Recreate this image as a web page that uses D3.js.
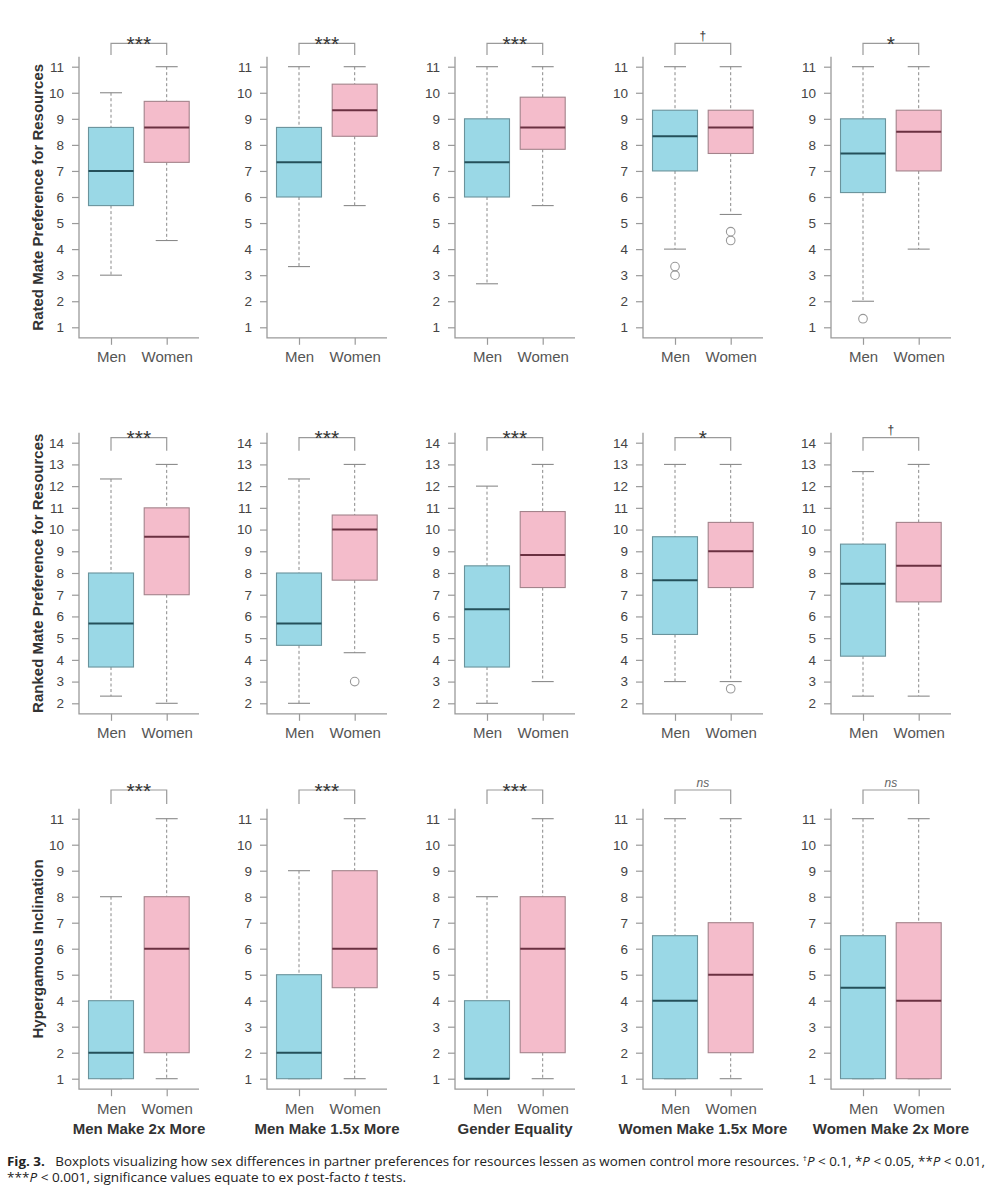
<!DOCTYPE html>
<html>
<head>
<meta charset="utf-8">
<script src="https://cdn.jsdelivr.net/npm/d3@7"></script>
<style>
  body { margin: 0; background: #fff; }
  svg { display: block; }
</style>
</head>
<body>
<svg id="chart" width="993" height="1200"></svg>
<script>
// groups and conditions
const groups = ["Men", "Women"];
const conditions = ["Men Make 2x More", "Men Make 1.5x More", "Gender Equality", "Women Make 1.5x More", "Women Make 2x More"];
const measures = ["Rated Mate Preference for Resources", "Ranked Mate Preference for Resources", "Hypergamous Inclination"];

// tick labels per row
const ratedTicks = [1, 2, 3, 4, 5, 6, 7, 8, 9, 10, 11];
const rankedTicks = [2, 3, 4, 5, 6, 7, 8, 9, 10, 11, 12, 13, 14];
const hyperTicks = [1, 2, 3, 4, 5, 6, 7, 8, 9, 10, 11];

// box stats: [lower whisker, Q1, median, Q3, upper whisker], one per condition
const ratedMen = [
  [3, 5.67, 7, 8.67, 10],
  [3.33, 6, 7.33, 8.67, 11],
  [2.67, 6, 7.33, 9, 11],
  [4, 7, 8.33, 9.33, 11],
  [2, 6.17, 7.67, 9, 11]
];
const ratedWomen = [
  [4.33, 7.33, 8.67, 9.67, 11],
  [5.67, 8.33, 9.33, 10.33, 11],
  [5.67, 7.83, 8.67, 9.83, 11],
  [5.33, 7.67, 8.67, 9.33, 11],
  [4, 7, 8.5, 9.33, 11]
];
const ratedMenOut = [[], [], [], [3.33, 3], [1.33]];
const ratedWomenOut = [[], [], [], [4.67, 4.33], []];

const rankedMen = [
  [2.33, 3.67, 5.67, 8, 12.33],
  [2, 4.67, 5.67, 8, 12.33],
  [2, 3.67, 6.33, 8.33, 12],
  [3, 5.17, 7.67, 9.67, 13],
  [2.33, 4.17, 7.5, 9.33, 12.67]
];
const rankedWomen = [
  [2, 7, 9.67, 11, 13],
  [4.33, 7.67, 10, 10.67, 13],
  [3, 7.33, 8.83, 10.83, 13],
  [3, 7.33, 9, 10.33, 13],
  [2.33, 6.67, 8.33, 10.33, 13]
];
const rankedMenOut = [[], [], [], [], []];
const rankedWomenOut = [[], [3], [], [2.67], []];

const hyperMen = [
  [1, 1, 2, 4, 8],
  [1, 1, 2, 5, 9],
  [1, 1, 1, 4, 8],
  [1, 1, 4, 6.5, 11],
  [1, 1, 4.5, 6.5, 11]
];
const hyperWomen = [
  [1, 2, 6, 8, 11],
  [1, 4.5, 6, 9, 11],
  [1, 2, 6, 8, 11],
  [1, 2, 5, 7, 11],
  [1, 1, 4, 7, 11]
];
const hyperMenOut = [[], [], [], [], []];
const hyperWomenOut = [[], [], [], [], []];

// significance labels
const ratedSig = ["***", "***", "***", "\u2020", "*"];
const rankedSig = ["***", "***", "***", "*", "\u2020"];
const hyperSig = ["***", "***", "***", "ns", "ns"];

// layout per row (pixel positions of first / last tick, bracket line)
const rows = [
  { title: measures[0], ticks: ratedTicks, men: ratedMen, women: ratedWomen, menOut: ratedMenOut, womenOut: ratedWomenOut, sig: ratedSig, top: 66.7, bottom: 327.3, bracket: 43.3, leg: 11.7 },
  { title: measures[1], ticks: rankedTicks, men: rankedMen, women: rankedWomen, menOut: rankedMenOut, womenOut: rankedWomenOut, sig: rankedSig, top: 442.7, bottom: 703.3, bracket: 437.7, leg: 13 },
  { title: measures[2], ticks: hyperTicks, men: hyperMen, women: hyperWomen, menOut: hyperMenOut, womenOut: hyperWomenOut, sig: hyperSig, top: 818.7, bottom: 1078.7, bracket: 790, leg: 14 }
];

const fills = { Men: "#9ad8e6", Women: "#f4bccb" };
const strokes = { Men: "#6a939c", Women: "#a3838b" };
const medians = { Men: "#24505a", Women: "#6a3041" };
const axisColor = "#9a9a9a";
const font = "'Liberation Sans', Arial, sans-serif";

const svg = d3.select("#chart");

rows.forEach((row, r) => {
  const y = d3.scaleLinear()
    .domain([row.ticks[0], row.ticks[row.ticks.length - 1]])
    .range([row.bottom, row.top]);
  const axTop = row.top - 10;
  const axBottom = row.bottom + 10.5;

  // row title
  svg.append("text")
    .attr("transform", `translate(43,${(axTop + axBottom) / 2}) rotate(-90)`)
    .attr("text-anchor", "middle")
    .style("font-family", font)
    .style("font-size", "15px")
    .style("font-weight", "bold")
    .attr("fill", "#333")
    .text(row.title);

  conditions.forEach((cond, i) => {
    const ax = 79 + 188 * i;
    const x = d3.scalePoint().domain(groups).range([ax + 32, ax + 87.7]);
    const g = svg.append("g");

    // y axis
    g.append("g")
      .attr("transform", `translate(${ax},0)`)
      .call(d3.axisLeft(y).tickValues(row.ticks).tickSize(7).tickPadding(8).tickSizeOuter(0))
      .call(a => a.select(".domain").remove())
      .call(a => a.selectAll("line").attr("stroke", axisColor).attr("stroke-width", 1.2))
      .call(a => a.selectAll("text").attr("fill", "#444").style("font-family", font).style("font-size", "13.5px"));

    // x axis
    g.append("g")
      .attr("transform", `translate(0,${axBottom})`)
      .call(d3.axisBottom(x).tickSize(7).tickPadding(7).tickSizeOuter(0))
      .call(a => a.select(".domain").remove())
      .call(a => a.selectAll("line").attr("stroke", axisColor).attr("stroke-width", 1.2))
      .call(a => a.selectAll("text").attr("fill", "#555").style("font-family", font).style("font-size", "15px"));

    // L-shaped axis lines
    g.append("path")
      .attr("d", `M${ax},${axTop}V${axBottom}H${ax + 120}`)
      .attr("fill", "none")
      .attr("stroke", axisColor)
      .attr("stroke-width", 1.3);

    // boxes
    groups.forEach(grp => {
      const s = grp === "Men" ? row.men[i] : row.women[i];
      const out = grp === "Men" ? row.menOut[i] : row.womenOut[i];
      const cx = x(grp);
      const [lo, q1, med, q3, hi] = s;

      g.append("line").attr("x1", cx).attr("x2", cx).attr("y1", y(hi)).attr("y2", y(q3))
        .attr("stroke", "#888").attr("stroke-dasharray", "3,2.5");
      g.append("line").attr("x1", cx).attr("x2", cx).attr("y1", y(q1)).attr("y2", y(lo))
        .attr("stroke", "#888").attr("stroke-dasharray", "3,2.5");
      [hi, lo].forEach(v => {
        g.append("line").attr("x1", cx - 11).attr("x2", cx + 11).attr("y1", y(v)).attr("y2", y(v))
          .attr("stroke", "#8a8a8a").attr("stroke-width", 1.1);
      });

      g.append("rect")
        .attr("x", cx - 22.5).attr("width", 45)
        .attr("y", y(q3)).attr("height", y(q1) - y(q3))
        .attr("fill", fills[grp]).attr("stroke", strokes[grp]).attr("stroke-width", 1.1);

      g.append("line").attr("x1", cx - 22.5).attr("x2", cx + 22.5).attr("y1", y(med)).attr("y2", y(med))
        .attr("stroke", medians[grp]).attr("stroke-width", 2);

      g.selectAll(null).data(out).enter().append("circle")
        .attr("cx", cx).attr("cy", d => y(d)).attr("r", 4.3)
        .attr("fill", "none").attr("stroke", "#999").attr("stroke-width", 1.1);
    });

    // significance bracket
    const bx1 = x("Men"), bx2 = x("Women");
    g.append("path")
      .attr("d", `M${bx1},${row.bracket + row.leg}V${row.bracket}H${bx2}V${row.bracket + row.leg}`)
      .attr("fill", "none").attr("stroke", "#9a9a9a").attr("stroke-width", 1.2);

    const sig = row.sig[i];
    const st = g.append("text")
      .attr("x", (bx1 + bx2) / 2)
      .attr("text-anchor", "middle")
      .style("font-family", font)
      .text(sig);
    if (sig === "ns") {
      st.attr("y", row.bracket - 3).style("font-size", "12px").style("font-style", "italic").attr("fill", "#666");
    } else if (sig === "\u2020") {
      st.attr("y", row.bracket - 3.5).style("font-size", "12px").attr("fill", "#333");
    } else {
      st.attr("y", row.bracket + 7.5).style("font-size", "21px").attr("fill", "#333");
    }

    // condition label under bottom row
    if (r === rows.length - 1) {
      svg.append("text")
        .attr("x", ax + 60)
        .attr("y", 1134)
        .attr("text-anchor", "middle")
        .style("font-family", font)
        .style("font-size", "15px")
        .style("font-weight", "bold")
        .attr("fill", "#333")
        .text(cond);
    }
  });
});

// caption
const cap = "'Open Sans', 'Noto Sans', sans-serif";
const line1 = svg.append("text")
  .attr("x", 7).attr("y", 1166)
  .attr("textLength", 978).attr("lengthAdjust", "spacingAndGlyphs")
  .style("font-family", cap).style("font-size", "13px").attr("fill", "#222");
line1.append("tspan").style("font-weight", "bold").text("Fig. 3.");
line1.append("tspan").text("\u00a0\u00a0 Boxplots visualizing how sex differences in partner preferences for resources lessen as women control more resources. ");
line1.append("tspan").attr("dy", -5).style("font-size", "8px").text("\u2020");
line1.append("tspan").attr("dy", 5).style("font-style", "italic").text("P");
line1.append("tspan").text(" < 0.1, *");
line1.append("tspan").style("font-style", "italic").text("P");
line1.append("tspan").text(" < 0.05, **");
line1.append("tspan").style("font-style", "italic").text("P");
line1.append("tspan").text(" < 0.01,");

const line2 = svg.append("text")
  .attr("x", 7).attr("y", 1182)
  .attr("textLength", 399).attr("lengthAdjust", "spacingAndGlyphs")
  .style("font-family", cap).style("font-size", "13px").attr("fill", "#222");
line2.append("tspan").text("***");
line2.append("tspan").style("font-style", "italic").text("P");
line2.append("tspan").text(" < 0.001, significance values equate to ex post-facto ");
line2.append("tspan").style("font-style", "italic").text("t");
line2.append("tspan").text(" tests.");
</script>
</body>
</html>
